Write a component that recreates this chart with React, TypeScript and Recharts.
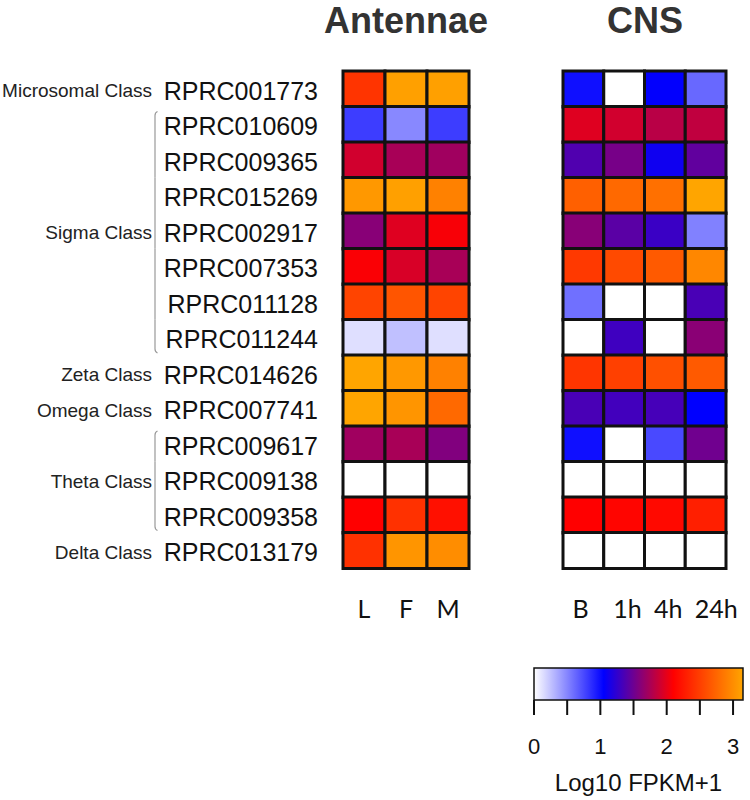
import { BarChart, Bar, XAxis, YAxis, Cell } from "recharts";

const genes = [
  "RPRC001773", "RPRC010609", "RPRC009365", "RPRC015269", "RPRC002917",
  "RPRC007353", "RPRC011128", "RPRC011244", "RPRC014626", "RPRC007741",
  "RPRC009617", "RPRC009138", "RPRC009358", "RPRC013179",
];
const classLabels = [
  "Microsomal Class", "", "", "", "Sigma Class", "", "", "",
  "Zeta Class", "Omega Class", "", "Theta Class", "", "Delta Class",
];
const bracketGroups = [[1, 7], [10, 12]];

const antennaeCols = ["L", "F", "M"];
const antennaeL = [2.43, 0.8, 1.91, 3.07, 1.61, 2.08, 2.53, 0.13, 3.15, 3.15, 1.71, 0, 2.1, 2.41];
const antennaeF = [3.12, 0.49, 1.74, 3.12, 1.97, 1.94, 2.64, 0.26, 3.07, 3.05, 1.74, 0, 2.41, 3.05];
const antennaeM = [3.12, 0.8, 1.71, 2.92, 2.07, 1.74, 2.53, 0.13, 2.92, 2.77, 1.58, 0, 2.2, 3.0];

const cnsCols = ["B", "1h", "4h", "24h"];
const cnsB = [0.99, 1.97, 1.38, 2.71, 1.61, 2.46, 0.59, 0, 2.44, 1.35, 0.99, 0, 2.1, 0];
const cns1h = [0, 1.91, 1.54, 2.77, 1.42, 2.57, 0, 1.31, 2.51, 1.32, 0, 0, 2.13, 0];
const cns4h = [1.06, 1.81, 1.11, 2.81, 1.29, 2.67, 0, 0, 2.61, 1.34, 0.75, 0, 2.16, 0];
const cns24h = [0.62, 1.84, 1.45, 3.15, 0.52, 2.96, 1.35, 1.62, 2.67, 1.05, 1.51, 0, 2.3, 0];

const scaleMax = 3.15;
const scaleTicks = [0, 0.5, 1, 1.5, 2, 2.5, 3];
const scaleStops = [0, 1.05, 2.1, 3.15];
const scaleColors = [[255, 255, 255], [0, 0, 255], [255, 0, 0], [255, 165, 0]];

const ROW_H = 497 / 14;
const SANS = "'Liberation Sans', Arial, sans-serif";

function heatColor(v: number) {
  for (let i = 0; i < scaleStops.length - 1; i++) {
    if (v <= scaleStops[i + 1] || i === scaleStops.length - 2) {
      const t = Math.max(0, Math.min(1, (v - scaleStops[i]) / (scaleStops[i + 1] - scaleStops[i])));
      const a = scaleColors[i], b = scaleColors[i + 1];
      const c = a.map((x, k) => Math.round(x + (b[k] - x) * t));
      return `rgb(${c[0]},${c[1]},${c[2]})`;
    }
  }
  return "#fff";
}

function GeneTick({ y, payload }: any) {
  const i = payload.index;
  const grp = bracketGroups.find(([a, b]) => i >= a && i <= b);
  let bracket = null;
  if (grp) {
    const bx = 155;
    const y1 = i === grp[0] ? y - ROW_H / 2 + 6 : y - ROW_H / 2;
    const y2 = i === grp[1] ? y + ROW_H / 2 - 3 : y + ROW_H / 2;
    let d = "";
    if (i === grp[0]) d += `M${bx + 2.5},${y1 - 1} Q${bx},${y1} ${bx},${y1 + 3} `;
    else d += `M${bx},${y1} `;
    if (i === grp[1]) d += `L${bx},${y2 - 3} Q${bx},${y2} ${bx + 2.5},${y2 + 1}`;
    else d += `L${bx},${y2}`;
    bracket = <path d={d} fill="none" stroke="#999" strokeWidth={1.2} />;
  }
  return (
    <g>
      {classLabels[i] && (
        <text x={152} y={y + 8.5} textAnchor="end" fontSize={19} fill="#222" fontFamily={SANS}>
          {classLabels[i]}
        </text>
      )}
      <text x={318} y={y + 11} textAnchor="end" fontSize={25} fill="#111" fontFamily={SANS}>
        {payload.value}
      </text>
      {bracket}
    </g>
  );
}

function ColTick({ x, y, payload, labels, anchor, shift }: any) {
  return (
    <text x={x + shift} y={y + 50} textAnchor={anchor} fontSize={25} fill="#111" fontFamily="Lato, sans-serif">
      {labels[Math.floor(payload.value)]}
    </text>
  );
}

function Heatmap({ cols, series, withLabels, anchor, shift }: any) {
  const data = genes.map((g) => {
    const row: any = { gene: g };
    cols.forEach((c: string) => (row[c] = 1));
    return row;
  });
  const ticks = cols.map((_: string, i: number) => i + 0.5);
  return (
    <BarChart
      width={withLabels ? 480 : 210}
      height={640}
      data={data}
      layout="vertical"
      barCategoryGap={0}
      barGap={0}
      margin={withLabels ? { top: 71, right: 11, bottom: 0, left: 0 } : { top: 71, right: 24, bottom: 0, left: 23 }}
    >
      <XAxis
        type="number"
        domain={[0, cols.length]}
        ticks={ticks}
        axisLine={false}
        tickLine={false}
        tickSize={0}
        tickMargin={0}
        height={72}
        tick={<ColTick labels={cols} anchor={anchor} shift={shift} />}
        interval={0}
      />
      <YAxis
        type="category"
        dataKey="gene"
        width={withLabels ? 343 : 0}
        hide={!withLabels}
        axisLine={false}
        tickLine={false}
        interval={0}
        tick={<GeneTick />}
      />
      {cols.map((c: string, ci: number) => (
        <Bar key={c} dataKey={c} stackId="a" stroke="#111" strokeWidth={3} isAnimationActive={false}>
          {data.map((_: any, ri: number) => (
            <Cell key={ri} fill={heatColor(series[ci][ri])} />
          ))}
        </Bar>
      ))}
    </BarChart>
  );
}

function ScaleTick({ x, y, payload }: any) {
  const v = payload.value;
  if (!Number.isInteger(v)) return null;
  return (
    <text x={x} y={y + 37} textAnchor="middle" fontSize={22} fill="#111" fontFamily={SANS}>
      {v}
    </text>
  );
}

function ColorScale() {
  return (
    <BarChart
      width={250}
      height={160}
      data={[{ name: "scale", value: scaleMax }]}
      layout="vertical"
      barCategoryGap={0}
      margin={{ top: 28, right: 7, bottom: 0, left: 34 }}
    >
      <defs>
        <linearGradient id="scaleGrad" x1="0" y1="0" x2="1" y2="0">
          {scaleStops.map((s, i) => (
            <stop key={i} offset={s / scaleMax} stopColor={`rgb(${scaleColors[i].join(",")})`} />
          ))}
        </linearGradient>
      </defs>
      <XAxis
        type="number"
        domain={[0, scaleMax]}
        ticks={scaleTicks}
        interval={0}
        axisLine={false}
        tickSize={15}
        tickLine={{ stroke: "#111", strokeWidth: 2 }}
        height={100}
        tick={<ScaleTick />}
        label={{ value: "Log10 FPKM+1", position: "insideBottom", offset: 9, fontSize: 24, fill: "#111", fontFamily: SANS }}
      />
      <YAxis type="category" dataKey="name" hide />
      <Bar dataKey="value" fill="url(#scaleGrad)" stroke="#111" strokeWidth={1.5} isAnimationActive={false} />
    </BarChart>
  );
}

const titleStyle: any = {
  position: "absolute",
  width: 200,
  textAlign: "center",
  fontFamily: SANS,
  fontWeight: "bold",
  fontSize: 36,
  lineHeight: "normal",
  color: "#333",
  top: 0,
};

export default function App() {
  return (
    <div style={{ position: "relative", width: 750, height: 800, background: "#fff", overflow: "hidden" }}>
      <style>{"body{margin:0}"}</style>
      <div style={{ ...titleStyle, left: 306 }}>Antennae</div>
      <div style={{ ...titleStyle, left: 545 }}>CNS</div>
      <div style={{ position: "absolute", left: 0, top: 0 }}>
        <Heatmap cols={antennaeCols} series={[antennaeL, antennaeF, antennaeM]} withLabels anchor="middle" shift={0} />
      </div>
      <div style={{ position: "absolute", left: 540, top: 0 }}>
        <Heatmap cols={cnsCols} series={[cnsB, cns1h, cns4h, cns24h]} withLabels={false} anchor="start" shift={-11} />
      </div>
      <div style={{ position: "absolute", left: 500, top: 640 }}>
        <ColorScale />
      </div>
    </div>
  );
}
